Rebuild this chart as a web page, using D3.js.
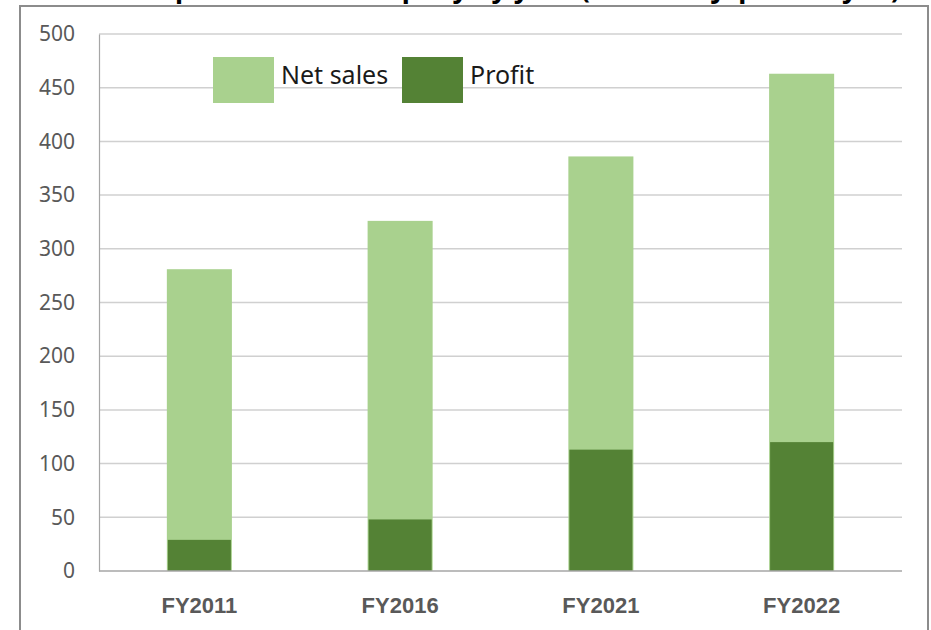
<!DOCTYPE html>
<html>
<head>
<meta charset="utf-8">
<script src="https://cdn.jsdelivr.net/npm/d3@7"></script>
<style>
  body { margin: 0; background: #fff; }
  svg { display: block; }
</style>
</head>
<body>
<div id="chart"></div>
<script>
const years = ["FY2011", "FY2016", "FY2021", "FY2022"];
const netSales = [281, 326, 386, 463];
const profit = [29, 48, 113, 120];
const yTicks = [0, 50, 100, 150, 200, 250, 300, 350, 400, 450, 500];
const seriesNames = ["Net sales", "Profit"];

const W = 931, H = 630;
const lightGreen = "#a9d18e", darkGreen = "#548235";

const svg = d3.select("#chart").append("svg")
  .attr("width", W)
  .attr("height", H);

// Title, cut off at the top edge like in the source image
svg.append("text")
  .attr("x", -14)
  .attr("y", -2)
  .attr("font-family", "Noto Sans, sans-serif")
  .attr("font-size", 27)
  .attr("font-weight", "bold")
  .attr("fill", "#000")
  .text("Net sales and profit of the company by year (in billion Japanese yen)");

// Outer frame
svg.append("rect")
  .attr("x", 20)
  .attr("y", 6)
  .attr("width", 908)
  .attr("height", 640)
  .attr("fill", "none")
  .attr("stroke", "#8c8c8c")
  .attr("stroke-width", 2);

const margin = {left: 99, right: 29, top: 34, bottom: 59};

const x = d3.scaleBand()
  .domain(years)
  .range([margin.left, W - margin.right])
  .paddingInner(0.676)
  .paddingOuter(0.338);

const y = d3.scaleLinear()
  .domain([0, 500])
  .range([H - margin.bottom, margin.top]);

// Gridlines
svg.append("g")
  .selectAll("line")
  .data(yTicks.filter(d => d > 0))
  .enter()
  .append("line")
  .attr("x1", margin.left)
  .attr("x2", W - margin.right)
  .attr("y1", d => y(d))
  .attr("y2", d => y(d))
  .attr("stroke", "#d0d0d0")
  .attr("stroke-width", 1.5);

// Y axis
const yAxis = svg.append("g")
  .attr("transform", "translate(" + margin.left + ",0)")
  .call(d3.axisLeft(y).tickValues(yTicks).tickSize(0).tickPadding(24));
yAxis.select(".domain").attr("stroke", "#a6a6a6").attr("stroke-width", 1.2);
yAxis.selectAll("text")
  .attr("font-family", "Noto Sans, sans-serif")
  .attr("font-size", 21)
  .attr("fill", "#595959");

// Bars
const bars = svg.append("g");
bars.selectAll("rect.sales")
  .data(years)
  .enter()
  .append("rect")
  .attr("class", "sales")
  .attr("x", d => x(d))
  .attr("width", x.bandwidth())
  .attr("y", (d, i) => y(netSales[i]))
  .attr("height", (d, i) => y(0) - y(netSales[i]))
  .attr("fill", lightGreen);

bars.selectAll("rect.profit")
  .data(years)
  .enter()
  .append("rect")
  .attr("class", "profit")
  .attr("x", d => x(d) + 1)
  .attr("width", x.bandwidth() - 2)
  .attr("y", (d, i) => y(profit[i]))
  .attr("height", (d, i) => y(0) - y(profit[i]))
  .attr("fill", darkGreen);

// X axis
const xAxis = svg.append("g")
  .attr("transform", "translate(0," + y(0) + ")")
  .call(d3.axisBottom(x).tickSize(0).tickPadding(26));
xAxis.select(".domain")
  .attr("stroke", "#a6a6a6")
  .attr("stroke-width", 1.5)
  .attr("d", "M" + margin.left + ",0H" + (W - margin.right));
xAxis.selectAll("text")
  .attr("font-family", "Liberation Sans, Arial, sans-serif")
  .attr("font-size", 22)
  .attr("font-weight", "bold")
  .attr("fill", "#595959");

// Legend
const legend = svg.append("g");
const legendX = [213, 402];
const legendColors = [lightGreen, darkGreen];
seriesNames.forEach((name, i) => {
  legend.append("rect")
    .attr("x", legendX[i])
    .attr("y", 57)
    .attr("width", 61)
    .attr("height", 46)
    .attr("fill", legendColors[i]);
  legend.append("text")
    .attr("x", legendX[i] + 68)
    .attr("y", 84)
    .attr("font-family", "Noto Sans, sans-serif")
    .attr("font-size", 25)
    .attr("fill", "#1a1a1a")
    .text(name);
});
</script>
</body>
</html>
